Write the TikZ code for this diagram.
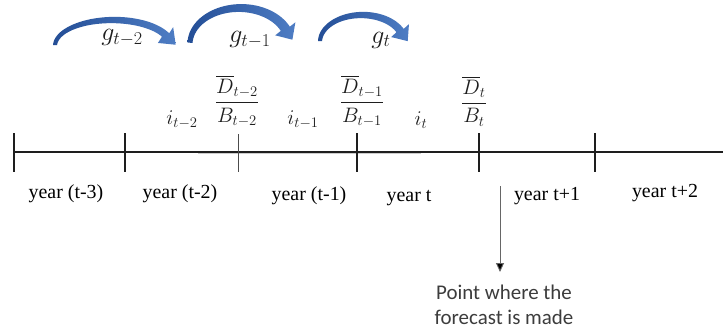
\RequirePackage{fix-cm}
\documentclass[tikz,border=0pt]{standalone}
\usepackage{amsmath}
\usepackage{fontspec}
\setmainfont{Liberation Serif}
\newfontfamily\calibrifont{Carlito}
\usetikzlibrary{arrows.meta}
\definecolor{arrowdark}{RGB}{36,78,150}
\definecolor{arrowlight}{RGB}{78,125,196}
\definecolor{linecol}{RGB}{30,30,30}
\definecolor{notecol}{RGB}{60,60,60}
\newcommand\blockarc[9]{%
  \pgfmathsetmacro\BAPx{#1+#3*cos(#5)}%
  \pgfmathsetmacro\BAPy{#2-#4*sin(#5)}%
  \pgfmathsetmacro\BAdx{#3*sin(#5)}%
  \pgfmathsetmacro\BAdy{#4*cos(#5)}%
  \pgfmathsetmacro\BAdn{sqrt(\BAdx*\BAdx+\BAdy*\BAdy)}%
  \pgfmathsetmacro\BAux{\BAdx/\BAdn}%
  \pgfmathsetmacro\BAuy{\BAdy/\BAdn}%
  \shade[left color=arrowdark, right color=arrowlight]
    plot[domain=178:#5, samples=40, smooth] ({#1+(#3+(#6+(#7-#6)*(178-\x)/(178-#5))/2)*cos(\x)}, {#2-(#4+(#6+(#7-#6)*(178-\x)/(178-#5))/2)*sin(\x)})
    -- ({\BAPx+#8*\BAuy}, {\BAPy-#8*\BAux})
    -- ({\BAPx+#9*\BAux}, {\BAPy+#9*\BAuy})
    -- ({\BAPx-#8*\BAuy}, {\BAPy+#8*\BAux})
    -- plot[domain=#5:178, samples=40, smooth] ({#1+(#3-(#6+(#7-#6)*(178-\x)/(178-#5))/2)*cos(\x)}, {#2-(#4-(#6+(#7-#6)*(178-\x)/(178-#5))/2)*sin(\x)})
    -- cycle;
}
\tikzset{
  yr/.style={inner sep=0pt, font=\fontsize{20}{24}\selectfont, text=black},
  ml/.style={inner sep=0pt, font=\fontsize{21}{25}\selectfont, text=linecol},
  gl/.style={inner sep=0pt, font=\fontsize{26}{30}\selectfont, text=linecol},
  note/.style={inner sep=0pt, align=center, font=\calibrifont\fontsize{21}{25}\selectfont, text=notecol},
  tickmark/.style={draw=linecol, line width=1.4bp},
  thintick/.style={draw=black!70, line width=0.8bp},
}
\begin{document}
\begin{tikzpicture}[x=1bp, y=-1bp]
\useasboundingbox (0,0) rectangle (723,331);
\fill[white] (0,0) rectangle (723,331);

% curved growth arrows
\blockarc{113}{46}{58}{26}{25}{4}{8}{11}{14}
\blockarc{240}{44}{50}{36}{25}{5}{10}{12}{13}
\blockarc{362}{42}{42}{27}{25}{4}{8}{11}{13}

\node[gl] (g2) at (122,38) {$g_{t-2}$};
\node[gl] (g1) at (250,40) {$g_{t-1}$};
\node[gl] (g0) at (381,40) {$g_{t}$};

% timeline
\coordinate (L0) at (14,152);
\coordinate (L1) at (723,152);
\draw[black!20, line width=1.6bp] (198,153) -- (421,153);
\draw[draw=linecol, line width=1.2bp] (L0) -- (L1);
\draw[tickmark, line width=1.1bp] (14,133) -- (14,172);
\draw[tickmark, line width=1.1bp] (125,133) -- (125,172);
\draw[thintick] (238,134) -- (238,172);
\draw[tickmark] (357,133) -- (357,172);
\draw[tickmark] (479,133) -- (479,172);
\draw[tickmark] (595,133) -- (595,172);

% labels above the line
\node[ml] (i2) at (182,120) {$i_{t-2}$};
\node[ml] (f2) at (237,101) {$\dfrac{\overline{D}_{t-2}}{B_{t-2}}$};
\node[ml] (i1) at (303,120) {$i_{t-1}$};
\node[ml] (f1) at (362,101) {$\dfrac{\overline{D}_{t-1}}{B_{t-1}}$};
\node[ml] (i0) at (421,120) {$i_{t}$};
\node[ml] (f0) at (474,101) {$\dfrac{\overline{D}_{t}}{B_{t}}$};

% year labels
\node[yr] (y3) at (66,194) {year (t-3)};
\node[yr] (y2) at (180,194) {year (t-2)};
\node[yr] (y1) at (309,196) {year (t-1)};
\node[yr] (y0) at (409,198) {year t};
\node[yr] (yp1) at (547,196) {year t+1};
\node[yr] (yp2) at (665,193) {year t+2};

% forecast point
\node[note] (fc) at (504,305) {Point where the\\forecast is made};
\coordinate (fcstart) at (500,186);
\draw[black!60, line width=0.9bp, -{Triangle[length=9bp,width=8bp,fill=black]}, shorten >=13bp] (fcstart) -- (fcstart |- fc.north);
\end{tikzpicture}
\end{document}
